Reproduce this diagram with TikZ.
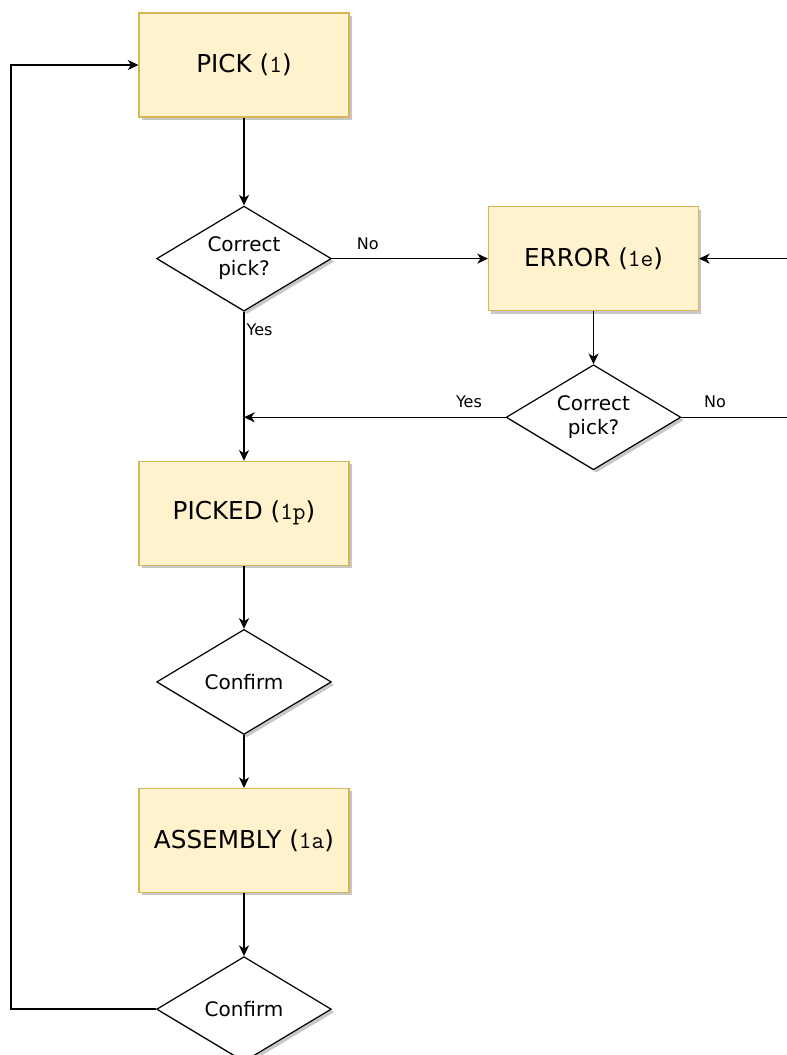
\documentclass[tikz,border=0pt]{standalone}
\usepackage{fontspec}
\setmainfont{DejaVu Sans}
\usetikzlibrary{arrows.meta}
\usetikzlibrary{shapes.geometric, positioning}
\usetikzlibrary{shadows}
\definecolor{boxfill}{HTML}{FFF2CC}
\definecolor{boxline}{HTML}{D6B656}
\tikzset{state/.style={rectangle, draw=boxline, fill=boxfill, line width=0.8pt, minimum width=157.5pt, minimum height=78pt, text centered, font=\fontsize{18.5}{21}\selectfont, drop shadow={shadow xshift=2.2pt, shadow yshift=-2.2pt, fill=black!22, opacity=1}}}
\tikzset{decision/.style={diamond, draw, fill=white, line width=0.9pt, aspect=1.67, inner sep=0pt, minimum width=131pt, minimum height=78.75pt, align=center, font=\fontsize{15}{18}\selectfont, drop shadow={shadow xshift=2.2pt, shadow yshift=-2.2pt, fill=black!22, opacity=1}}}

\begin{document}
\begin{tikzpicture}[x=0.75pt, y=-0.75pt,
    arrow/.style={-{Stealth[length=8pt, width=7.5pt, inset=2.4pt]}, line width=1.1pt},
    lbl/.style={font=\fontsize{12}{14}\selectfont, inner sep=1.5pt},
    ]
    \useasboundingbox (0,0) rectangle (787,1055);

    % Pick
    \node [state] (pick) at (244,65) {PICK (\texttt{1})};

    % First check
    \node [decision, below=66pt of pick] (dec1) {Correct\\pick?};
    \draw [arrow] (pick) -- (dec1);

    % Error state
    \node [state, right=117pt of dec1] (error) {ERROR (\texttt{1e})};
    \draw [arrow] (dec1.east) -- node [lbl, pos=0.23, above=5pt] {No} (error.west);

    % Second check
    \node [decision, below=39.75pt of error] (dec2) {Correct\\pick?};
    \draw [arrow] (error) -- (dec2);
    \draw [arrow] (dec2.east) -- node [lbl, pos=0.28, above=5pt] {No} ++(120,0) |- (error.east);

    % Picked
    \node [state, below=111.75pt of dec1] (picked) {PICKED (\texttt{1p})};
    \draw [arrow] (dec1.south) -- node [lbl, pos=0.12, right] {Yes} (picked.north);
    \draw [arrow] (dec2.west) -- node [lbl, pos=0.14, above=5pt] {Yes} (dec2.west -| picked.north);

    % Confirm pick
    \node [decision, below=47.25pt of picked] (conf1) {Confirm};
    \draw [arrow] (picked) -- (conf1);

    % Assembly
    \node [state, below=39.75pt of conf1] (asm) {ASSEMBLY (\texttt{1a})};
    \draw [arrow] (conf1) -- (asm);

    % Confirm assembly
    \node [decision, below=47.25pt of asm] (conf2) {Confirm};
    \draw [arrow] (asm) -- (conf2);

    % Back to pick
    \draw [arrow] (conf2.west) -- ++(-145,0) |- (pick.west);

\end{tikzpicture}
\end{document}
